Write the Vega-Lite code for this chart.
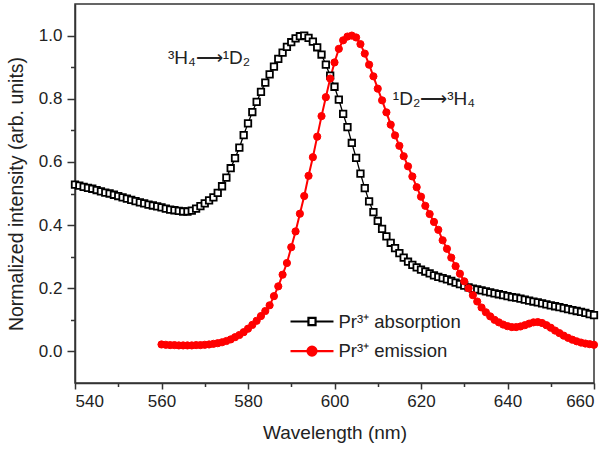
{
  "$schema": "https://vega.github.io/schema/vega-lite/v6.json",
  "width": 519,
  "height": 379,
  "autosize": {"type": "none"},
  "padding": {"left": 75, "top": 4, "right": 15, "bottom": 68},
  "background": "white",
  "config": {
    "font": "Liberation Sans",
    "view": {"stroke": "#333", "strokeWidth": 1.5},
    "axis": {"grid": false, "domainColor": "#333", "domainWidth": 1.5, "tickColor": "#333", "tickWidth": 1.5, "labelColor": "#222", "titleColor": "#222", "labelFontSize": 17, "titleFontSize": 19, "titleFontWeight": "normal", "labelFont": "Liberation Sans", "titleFont": "Liberation Sans"}
  },
  "datasets": {
    "notes": [
      {"label": "³H₄⟶¹D₂", "x": 571, "y": 0.93},
      {"label": "¹D₂⟶³H₄", "x": 623, "y": 0.8}
    ]
  },
  "data": {"values": [
    {"s":"abs","x":540,"y":0.528},{"s":"abs","x":541,"y":0.525},{"s":"abs","x":542,"y":0.521},{"s":"abs","x":543,"y":0.518},{"s":"abs","x":544,"y":0.515},{"s":"abs","x":545,"y":0.511},{"s":"abs","x":546,"y":0.507},{"s":"abs","x":547,"y":0.503},{"s":"abs","x":548,"y":0.5},{"s":"abs","x":549,"y":0.496},{"s":"abs","x":550,"y":0.492},{"s":"abs","x":551,"y":0.488},{"s":"abs","x":552,"y":0.484},{"s":"abs","x":553,"y":0.48},{"s":"abs","x":554,"y":0.476},{"s":"abs","x":555,"y":0.472},{"s":"abs","x":556,"y":0.469},{"s":"abs","x":557,"y":0.465},{"s":"abs","x":558,"y":0.462},{"s":"abs","x":559,"y":0.459},{"s":"abs","x":560,"y":0.456},{"s":"abs","x":561,"y":0.452},{"s":"abs","x":562,"y":0.449},{"s":"abs","x":563,"y":0.447},{"s":"abs","x":564,"y":0.445},{"s":"abs","x":565,"y":0.443},{"s":"abs","x":566,"y":0.443},{"s":"abs","x":567,"y":0.446},{"s":"abs","x":568,"y":0.452},{"s":"abs","x":569,"y":0.46},{"s":"abs","x":570,"y":0.469},{"s":"abs","x":571,"y":0.478},{"s":"abs","x":572,"y":0.488},{"s":"abs","x":573,"y":0.502},{"s":"abs","x":574,"y":0.523},{"s":"abs","x":575,"y":0.55},{"s":"abs","x":576,"y":0.58},{"s":"abs","x":577,"y":0.612},{"s":"abs","x":578,"y":0.645},{"s":"abs","x":579,"y":0.685},{"s":"abs","x":580,"y":0.722},{"s":"abs","x":581,"y":0.758},{"s":"abs","x":582,"y":0.79},{"s":"abs","x":583,"y":0.822},{"s":"abs","x":584,"y":0.851},{"s":"abs","x":585,"y":0.877},{"s":"abs","x":586,"y":0.902},{"s":"abs","x":587,"y":0.926},{"s":"abs","x":588,"y":0.946},{"s":"abs","x":589,"y":0.964},{"s":"abs","x":590,"y":0.979},{"s":"abs","x":591,"y":0.991},{"s":"abs","x":592,"y":0.998},{"s":"abs","x":593,"y":1.0},{"s":"abs","x":594,"y":0.993},{"s":"abs","x":595,"y":0.981},{"s":"abs","x":596,"y":0.963},{"s":"abs","x":597,"y":0.94},{"s":"abs","x":598,"y":0.908},{"s":"abs","x":599,"y":0.873},{"s":"abs","x":600,"y":0.838},{"s":"abs","x":601,"y":0.797},{"s":"abs","x":602,"y":0.752},{"s":"abs","x":603,"y":0.71},{"s":"abs","x":604,"y":0.66},{"s":"abs","x":605,"y":0.613},{"s":"abs","x":606,"y":0.563},{"s":"abs","x":607,"y":0.517},{"s":"abs","x":608,"y":0.475},{"s":"abs","x":609,"y":0.441},{"s":"abs","x":610,"y":0.413},{"s":"abs","x":611,"y":0.388},{"s":"abs","x":612,"y":0.364},{"s":"abs","x":613,"y":0.344},{"s":"abs","x":614,"y":0.327},{"s":"abs","x":615,"y":0.311},{"s":"abs","x":616,"y":0.297},{"s":"abs","x":617,"y":0.284},{"s":"abs","x":618,"y":0.274},{"s":"abs","x":619,"y":0.266},{"s":"abs","x":620,"y":0.259},{"s":"abs","x":621,"y":0.253},{"s":"abs","x":622,"y":0.247},{"s":"abs","x":623,"y":0.241},{"s":"abs","x":624,"y":0.236},{"s":"abs","x":625,"y":0.232},{"s":"abs","x":626,"y":0.228},{"s":"abs","x":627,"y":0.223},{"s":"abs","x":628,"y":0.218},{"s":"abs","x":629,"y":0.213},{"s":"abs","x":630,"y":0.208},{"s":"abs","x":631,"y":0.203},{"s":"abs","x":632,"y":0.199},{"s":"abs","x":633,"y":0.196},{"s":"abs","x":634,"y":0.193},{"s":"abs","x":635,"y":0.19},{"s":"abs","x":636,"y":0.187},{"s":"abs","x":637,"y":0.184},{"s":"abs","x":638,"y":0.181},{"s":"abs","x":639,"y":0.178},{"s":"abs","x":640,"y":0.175},{"s":"abs","x":641,"y":0.172},{"s":"abs","x":642,"y":0.17},{"s":"abs","x":643,"y":0.167},{"s":"abs","x":644,"y":0.164},{"s":"abs","x":645,"y":0.161},{"s":"abs","x":646,"y":0.158},{"s":"abs","x":647,"y":0.155},{"s":"abs","x":648,"y":0.152},{"s":"abs","x":649,"y":0.149},{"s":"abs","x":650,"y":0.146},{"s":"abs","x":651,"y":0.143},{"s":"abs","x":652,"y":0.14},{"s":"abs","x":653,"y":0.137},{"s":"abs","x":654,"y":0.134},{"s":"abs","x":655,"y":0.131},{"s":"abs","x":656,"y":0.128},{"s":"abs","x":657,"y":0.125},{"s":"abs","x":658,"y":0.122},{"s":"abs","x":659,"y":0.118},{"s":"abs","x":660,"y":0.115},
    {"s":"em","x":560,"y":0.022},{"s":"em","x":561,"y":0.021},{"s":"em","x":562,"y":0.02},{"s":"em","x":563,"y":0.02},{"s":"em","x":564,"y":0.019},{"s":"em","x":565,"y":0.019},{"s":"em","x":566,"y":0.019},{"s":"em","x":567,"y":0.019},{"s":"em","x":568,"y":0.02},{"s":"em","x":569,"y":0.02},{"s":"em","x":570,"y":0.021},{"s":"em","x":571,"y":0.022},{"s":"em","x":572,"y":0.024},{"s":"em","x":573,"y":0.026},{"s":"em","x":574,"y":0.029},{"s":"em","x":575,"y":0.033},{"s":"em","x":576,"y":0.038},{"s":"em","x":577,"y":0.045},{"s":"em","x":578,"y":0.052},{"s":"em","x":579,"y":0.061},{"s":"em","x":580,"y":0.072},{"s":"em","x":581,"y":0.084},{"s":"em","x":582,"y":0.097},{"s":"em","x":583,"y":0.112},{"s":"em","x":584,"y":0.128},{"s":"em","x":585,"y":0.146},{"s":"em","x":586,"y":0.175},{"s":"em","x":587,"y":0.206},{"s":"em","x":588,"y":0.243},{"s":"em","x":589,"y":0.28},{"s":"em","x":590,"y":0.33},{"s":"em","x":591,"y":0.38},{"s":"em","x":592,"y":0.436},{"s":"em","x":593,"y":0.492},{"s":"em","x":594,"y":0.556},{"s":"em","x":595,"y":0.615},{"s":"em","x":596,"y":0.68},{"s":"em","x":597,"y":0.745},{"s":"em","x":598,"y":0.805},{"s":"em","x":599,"y":0.864},{"s":"em","x":600,"y":0.915},{"s":"em","x":601,"y":0.958},{"s":"em","x":602,"y":0.985},{"s":"em","x":603,"y":0.997},{"s":"em","x":604,"y":1.0},{"s":"em","x":605,"y":0.994},{"s":"em","x":606,"y":0.973},{"s":"em","x":607,"y":0.943},{"s":"em","x":608,"y":0.908},{"s":"em","x":609,"y":0.871},{"s":"em","x":610,"y":0.832},{"s":"em","x":611,"y":0.795},{"s":"em","x":612,"y":0.757},{"s":"em","x":613,"y":0.718},{"s":"em","x":614,"y":0.684},{"s":"em","x":615,"y":0.651},{"s":"em","x":616,"y":0.618},{"s":"em","x":617,"y":0.586},{"s":"em","x":618,"y":0.554},{"s":"em","x":619,"y":0.52},{"s":"em","x":620,"y":0.49},{"s":"em","x":621,"y":0.461},{"s":"em","x":622,"y":0.435},{"s":"em","x":623,"y":0.41},{"s":"em","x":624,"y":0.385},{"s":"em","x":625,"y":0.352},{"s":"em","x":626,"y":0.325},{"s":"em","x":627,"y":0.297},{"s":"em","x":628,"y":0.27},{"s":"em","x":629,"y":0.246},{"s":"em","x":630,"y":0.222},{"s":"em","x":631,"y":0.2},{"s":"em","x":632,"y":0.178},{"s":"em","x":633,"y":0.158},{"s":"em","x":634,"y":0.139},{"s":"em","x":635,"y":0.124},{"s":"em","x":636,"y":0.111},{"s":"em","x":637,"y":0.1},{"s":"em","x":638,"y":0.092},{"s":"em","x":639,"y":0.085},{"s":"em","x":640,"y":0.08},{"s":"em","x":641,"y":0.077},{"s":"em","x":642,"y":0.077},{"s":"em","x":643,"y":0.079},{"s":"em","x":644,"y":0.083},{"s":"em","x":645,"y":0.088},{"s":"em","x":646,"y":0.092},{"s":"em","x":647,"y":0.093},{"s":"em","x":648,"y":0.09},{"s":"em","x":649,"y":0.083},{"s":"em","x":650,"y":0.075},{"s":"em","x":651,"y":0.066},{"s":"em","x":652,"y":0.058},{"s":"em","x":653,"y":0.05},{"s":"em","x":654,"y":0.043},{"s":"em","x":655,"y":0.037},{"s":"em","x":656,"y":0.032},{"s":"em","x":657,"y":0.028},{"s":"em","x":658,"y":0.025},{"s":"em","x":659,"y":0.023},{"s":"em","x":660,"y":0.021}
  ]},
  "encoding": {
    "x": {"field": "x", "type": "quantitative", "scale": {"domain": [540, 660], "nice": false, "zero": false},
      "axis": {"title": "Wavelength (nm)", "values": [540,550,560,570,580,590,600,610,620,630,640,650,660],
        "labelExpr": "datum.value % 20 === 0 ? datum.label : ''", "labelPadding": 4, "titlePadding": 14,
        "tickSize": {"condition": {"test": "datum.value % 20 === 0", "value": 6}, "value": 3.5}}},
    "y": {"field": "y", "type": "quantitative", "scale": {"domain": [-0.1, 1.1], "nice": false, "zero": false},
      "axis": {"title": "Normalized intensity (arb. units)", "values": [0,0.1,0.2,0.3,0.4,0.5,0.6,0.7,0.8,0.9,1.0],
        "labelExpr": "round(datum.value*10) % 2 === 0 ? format(datum.value, '.1f') : ''", "labelPadding": 5, "titlePadding": 12, "titleFontSize": 19.5,
        "tickSize": {"condition": {"test": "round(datum.value*10) % 2 === 0", "value": 8}, "value": 4.5}}}
  },
  "layer": [
    {"transform": [{"filter": "datum.s === 'abs'"}], "mark": {"type": "line", "color": "black", "strokeWidth": 1.3}},
    {"transform": [{"filter": "datum.s === 'em'"}], "mark": {"type": "line", "color": "#ff0000", "strokeWidth": 2}},
    {"transform": [{"filter": "datum.s === 'abs'"}], "mark": {"type": "point", "shape": "square", "filled": false, "fill": "white", "stroke": "black", "opacity": 1, "strokeWidth": 1.8, "size": 42}},
    {"transform": [{"filter": "datum.s === 'em'"}], "mark": {"type": "point", "shape": "circle", "filled": true, "fill": "#ff0000", "stroke": "#ff0000", "opacity": 1, "strokeWidth": 1, "size": 52}},
    {"transform": [{"filter": "false"}], "mark": {"type": "point", "opacity": 1, "strokeWidth": 2.2},
      "encoding": {
        "shape": {"field": "s", "type": "nominal", "scale": {"domain": ["abs", "em"], "range": ["M-2,0H-0.33M0.33,0H2M-0.33,-0.33H0.33V0.33H-0.33Z", "M-2,0H-0.42M0.42,0H2M-0.42,0A0.42,0.42,0,1,0,0.42,0A0.42,0.42,0,1,0,-0.42,0Z"]},
          "legend": {"title": null, "orient": "none", "legendX": 225, "legendY": 305.5, "padding": 0,
            "symbolSize": 462, "symbolStrokeWidth": 2.2, "labelFontSize": 18.5, "labelColor": "#222", "labelFont": "Liberation Sans", "labelOffset": 14.5, "rowPadding": 7.6,
            "labelExpr": "datum.value === 'abs' ? 'Pr³⁺ absorption' : 'Pr³⁺ emission'"}},
        "fill": {"field": "s", "type": "nominal", "scale": {"domain": ["abs", "em"], "range": ["white", "#ff0000"]}},
        "stroke": {"field": "s", "type": "nominal", "scale": {"domain": ["abs", "em"], "range": ["black", "#ff0000"]}}
      }},
    {"data": {"name": "notes"}, "mark": {"type": "text", "fontSize": 19, "font": "Liberation Sans", "color": "#222"},
      "encoding": {"text": {"field": "label"}}}
  ]
}
